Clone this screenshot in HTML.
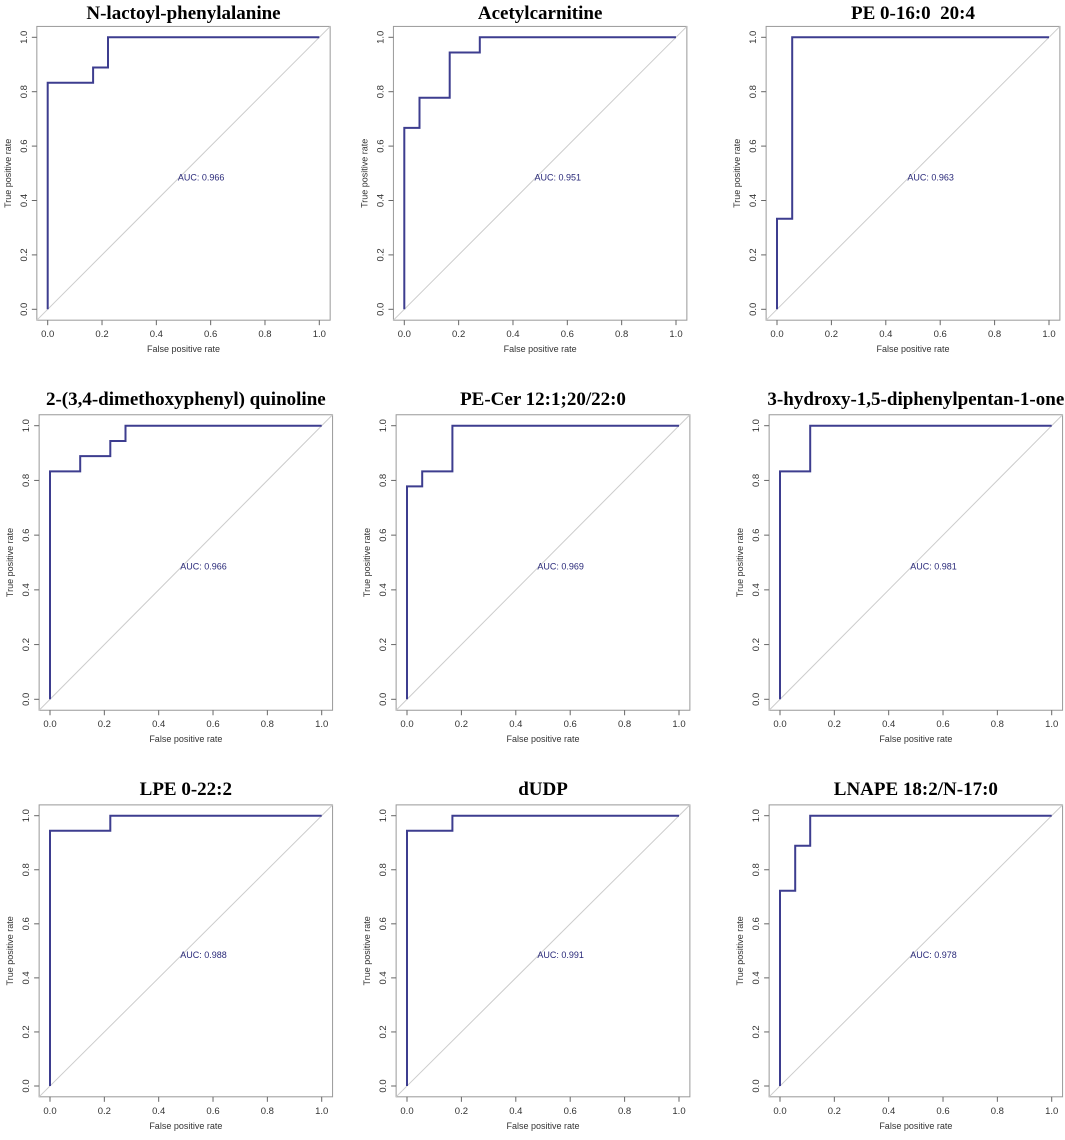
<!DOCTYPE html>
<html><head><meta charset="utf-8"><style>
html,body{margin:0;padding:0;background:#fff;}
svg{display:block;}
</style></head><body>
<svg id="fig" width="1065" height="1140" viewBox="0 0 1065 1140" xmlns="http://www.w3.org/2000/svg"></svg>
<script>
const titles = ["N-lactoyl-phenylalanine","Acetylcarnitine","PE 0-16:0\u00a0 20:4","2-(3,4-dimethoxyphenyl) quinoline","PE-Cer 12:1;20/22:0","3-hydroxy-1,5-diphenylpentan-1-one","LPE 0-22:2","dUDP","LNAPE 18:2/N-17:0"];
const aucs = ["0.966","0.951","0.963","0.966","0.969","0.981","0.988","0.991","0.978"];
const fpr1=[0,0,0.167,0.167,0.222,0.222,1], tpr1=[0,0.833,0.833,0.889,0.889,1,1];
const fpr2=[0,0,0.056,0.056,0.167,0.167,0.278,0.278,1], tpr2=[0,0.667,0.667,0.778,0.778,0.944,0.944,1,1];
const fpr3=[0,0,0.056,0.056,1], tpr3=[0,0.333,0.333,1,1];
const fpr4=[0,0,0.111,0.111,0.222,0.222,0.278,0.278,1], tpr4=[0,0.833,0.833,0.889,0.889,0.944,0.944,1,1];
const fpr5=[0,0,0.056,0.056,0.167,0.167,1], tpr5=[0,0.778,0.778,0.833,0.833,1,1];
const fpr6=[0,0,0.111,0.111,1], tpr6=[0,0.833,0.833,1,1];
const fpr7=[0,0,0.222,0.222,1], tpr7=[0,0.944,0.944,1,1];
const fpr8=[0,0,0.167,0.167,1], tpr8=[0,0.944,0.944,1,1];
const fpr9=[0,0,0.056,0.056,0.111,0.111,1], tpr9=[0,0.722,0.722,0.889,0.889,1,1];
const ticks=[0,0.2,0.4,0.6,0.8,1.0];
const tickLabels=["0.0","0.2","0.4","0.6","0.8","1.0"];
const fprs=[fpr1,fpr2,fpr3,fpr4,fpr5,fpr6,fpr7,fpr8,fpr9];
const tprs=[tpr1,tpr2,tpr3,tpr4,tpr5,tpr6,tpr7,tpr8,tpr9];

const colX=[[47.7,319.3],[404.3,676],[777,1049]];
const colX2=[[50,321.7],[407,679],[780,1051.7]];
const rowY=[[37.3,309.3],[425.7,699.3],[815.7,1086]];
const titleY=[19,405,795];
const NS="http://www.w3.org/2000/svg";
const svg=document.getElementById('fig');
function mk(tag,attrs,parent){const e=document.createElementNS(NS,tag);for(const k in attrs)e.setAttribute(k,attrs[k]);(parent||svg).appendChild(e);return e;}

for(let i=0;i<9;i++){
  const r=Math.floor(i/3), c=i%3;
  const [x0,x1]= r===0?colX[c]:colX2[c];
  const [y1,y0]=rowY[r];
  const sx=v=>x0+(x1-x0)*v, sy=v=>y0-(y0-y1)*v;
  const pad=0.04*(x1-x0), padY=0.04*(y0-y1);
  const g=mk('g',{});
  
  
  const t=mk('text',{x:(x0+x1)/2,y:titleY[r],'text-anchor':'middle','font-family':'Liberation Serif, serif','font-weight':'bold','font-size':'19'},g);
  t.textContent=titles[i];
  
  
  const box=mk('rect',{x:x0-pad,y:y1-padY,width:(x1-x0)+2*pad,height:(y0-y1)+2*padY,fill:'none',stroke:'#999','stroke-width':'1'},g);
  
  
  const bottom=y0+padY, left=x0-pad;
  ticks.forEach((v,k)=>{
    mk('line',{x1:sx(v),x2:sx(v),y1:bottom,y2:bottom+5,stroke:'#666'},g);
    const tx=mk('text',{x:sx(v),y:bottom+17,'text-anchor':'middle','font-family':'Liberation Sans, sans-serif','font-size':'9.5',fill:'#333'},g);
    tx.textContent=tickLabels[k];
    
    
    mk('line',{x1:left,x2:left-5,y1:sy(v),y2:sy(v),stroke:'#666'},g);
    const ty=mk('text',{x:0,y:0,'text-anchor':'middle','font-family':'Liberation Sans, sans-serif','font-size':'9.5',fill:'#333',transform:`translate(${left-10},${sy(v)}) rotate(-90)`},g);
    ty.textContent=tickLabels[k];
    
    
  });
  const xl=mk('text',{x:(x0+x1)/2,y:bottom+32,'text-anchor':'middle','font-family':'Liberation Sans, sans-serif','font-size':'9',fill:'#333'},g);
  xl.textContent='False positive rate';
  
  
  const yl=mk('text',{x:0,y:0,'text-anchor':'middle','font-family':'Liberation Sans, sans-serif','font-size':'9',fill:'#333',transform:`translate(${left-26},${(y0+y1)/2}) rotate(-90)`},g);
  yl.textContent='True positive rate';
  
  
  const diag=mk('line',{x1:sx(-0.04),y1:sy(-0.04),x2:sx(1.04),y2:sy(1.04),stroke:'#ccc','stroke-width':'1'},g);
  
  
  const pts=fprs[i].map((f,k)=>sx(f).toFixed(1)+','+sy(tprs[i][k]).toFixed(1)).join(' ');
  const pl=mk('polyline',{points:pts,fill:'none',stroke:'#3d3d8f','stroke-width':'2'},g);
  
  
  const au=mk('text',{x:sx(0.565),y:sy(0.5)+7,'text-anchor':'middle','font-family':'Liberation Sans, sans-serif','font-size':'9',fill:'#2a2a7a'},g);
  au.textContent='AUC: '+aucs[i];
  
  
}
</script>
</body></html>
